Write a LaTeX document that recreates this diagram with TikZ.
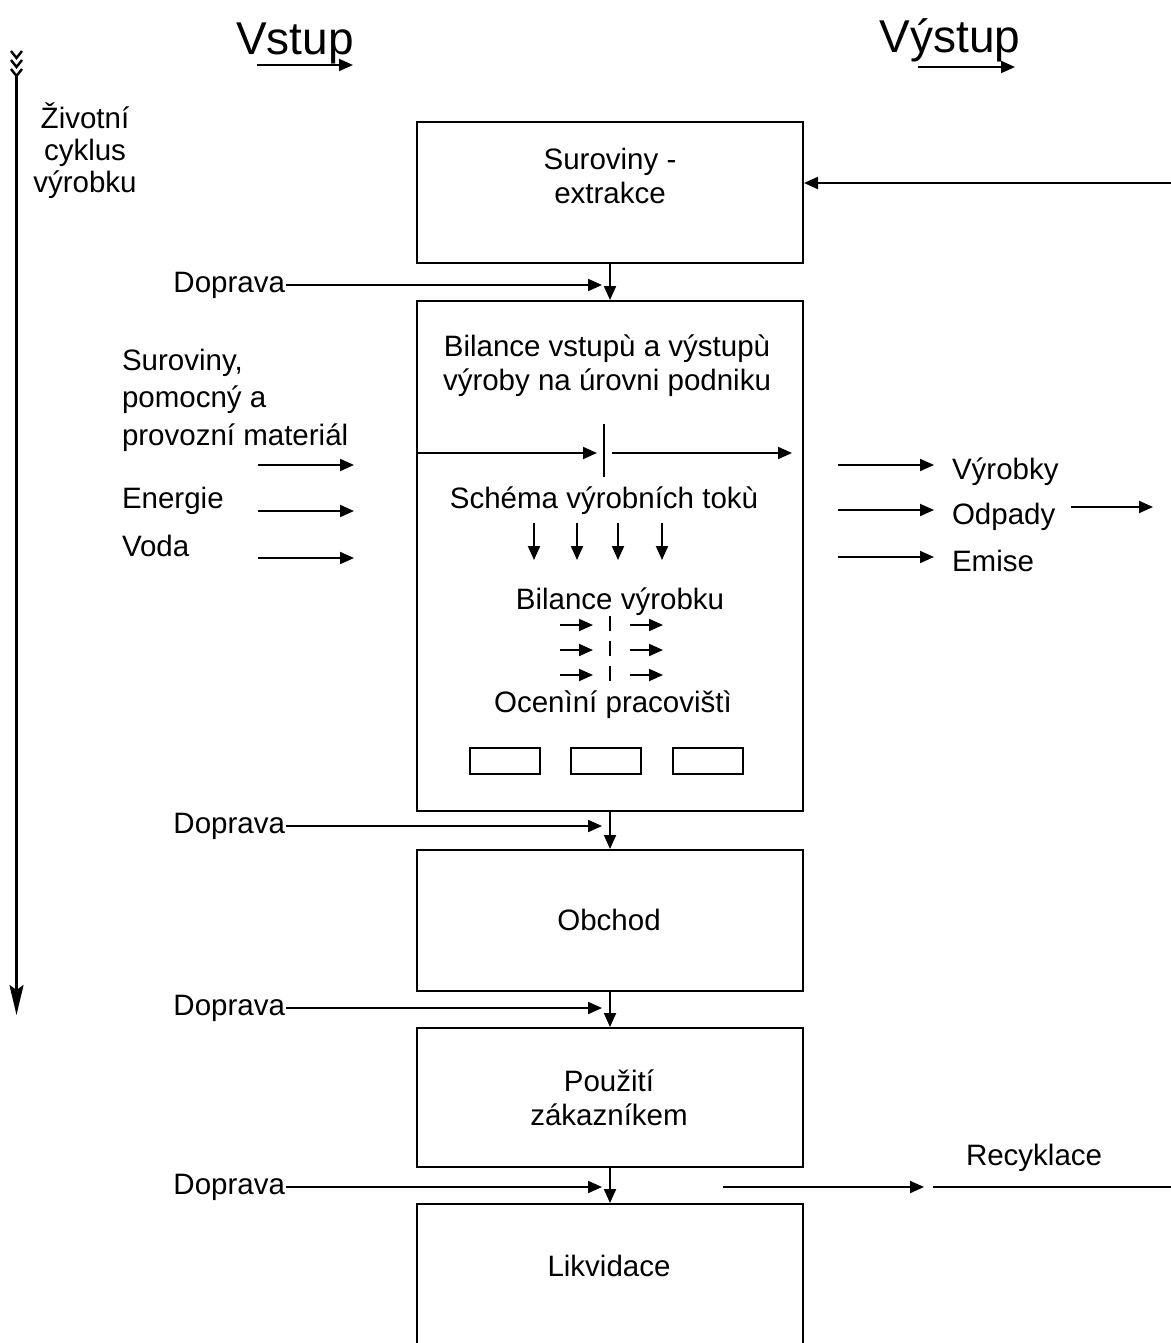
\documentclass[tikz,border=0pt]{standalone}
\usepackage{fontspec}
\setmainfont{Liberation Sans}
\usetikzlibrary{arrows.meta}
\begin{document}
\begin{tikzpicture}[x=1pt,y=-1pt,
  line width=2pt,
  arr/.style={-{Triangle[length=14pt,width=12pt]}},
  txt/.style={font=\fontsize{29.5}{33}\selectfont, inner sep=0pt},
  big/.style={font=\fontsize{46}{50}\selectfont, inner sep=0pt},
  stage/.style={draw, line width=2pt, minimum width=386pt, inner sep=0pt, anchor=north west},
  cell/.style={draw, line width=2pt, minimum width=70pt, minimum height=26pt, inner sep=0pt, anchor=north west},
]
\useasboundingbox (0,0) rectangle (1170,1343);

% headings
\node[big, anchor=base] (vin)  at (295,55) {Vstup};
\node[big, anchor=base] (vout) at (950,53) {Výstup};
\coordinate (vinA) at (257,65);  \coordinate (vinB) at (353,65);
\coordinate (voutA) at (918,67); \coordinate (voutB) at (1015,67);
\draw[arr] (vinA) -- (vinB);
\draw[arr] (voutA) -- (voutB);

% life-cycle axis on the left
\coordinate (lcTop) at (16.5,76);
\coordinate (lcEnd) at (16.5,1015);
\foreach \t in {58,67,76}
  \draw[line width=2.4pt] (11,\t-7) -- (16.5,\t) -- (22,\t-7);
\draw[line width=2.4pt, -{Stealth[length=30pt,width=14pt,inset=5pt]}] (lcTop) -- (lcEnd);
% multi-line nodes: the base anchor sits on the last line
\node[txt, align=center, anchor=base] (lc) at (85,193)
  {Životní\\[-1pt]cyklus\\[-1pt]výrobku};

% stages of the product life cycle
\node[stage, minimum height=141pt] (raw)  at (416,121)  {};
\node[stage, minimum height=510pt] (bal)  at (416,300)  {};
\node[stage, minimum height=141pt] (shop) at (416,849)  {};
\node[stage, minimum height=139pt] (use)  at (416,1027) {};
\node[stage, minimum height=160pt] (disp) at (416,1203) {};

\node[txt, align=center] (rawT) at (610,176) {Suroviny -\\[1pt]extrakce};
\node[txt] (shopT) at (609,920) {Obchod};
\node[txt, align=center] (useT) at (609,1098) {Použití\\[1pt]zákazníkem};
\node[txt] (dispT) at (609,1266) {Likvidace};

% flow between stages
\draw[arr] (raw.south)  -- (bal.north);
\draw[arr] (bal.south)  -- (shop.north);
\draw[arr] (shop.south) -- (use.north);
\draw[arr] (use.south)  -- (disp.north);

% transport
\foreach \n/\y in {1/285, 2/826, 3/1008, 4/1187} {
  \node[txt, anchor=east] (dop\n) at (286,\y) {Doprava};
  \coordinate (dopE\n) at (602,\y);
  \draw[arr] (dop\n.east) -- (dopE\n);
}

% return line into extraction
\coordinate (retR) at (1172,183);
\draw[arr] (retR) -- (raw.east |- retR);

% recycling
\coordinate (recA) at (723,1187); \coordinate (recB) at (924,1187);
\coordinate (recC) at (933,1187); \coordinate (recD) at (1172,1187);
\draw[arr] (recA) -- (recB);
\draw (recC) -- (recD);
\node[txt, anchor=base west] (rec) at (965,1165) {Recyklace};

% inputs
\node[txt, align=left, anchor=base west] (inM) at (121,445)
  {Suroviny,\\[4.5pt]pomocný a\\[4.5pt]provozní materiál};
\node[txt, anchor=base west] (inE) at (121,508) {Energie};
\node[txt, anchor=base west] (inW) at (121,556) {Voda};
\foreach \n/\y in {1/465, 2/511, 3/558} {
  \coordinate (inA\n) at (258,\y); \coordinate (inB\n) at (354,\y);
  \draw[arr] (inA\n) -- (inB\n);
}

% outputs
\node[txt, anchor=base west] (outP) at (951,479) {Výrobky};
\node[txt, anchor=base west] (outO) at (951,524) {Odpady};
\node[txt, anchor=base west] (outE) at (951,571) {Emise};
\foreach \n/\y in {1/465, 2/510, 3/557} {
  \coordinate (outA\n) at (838,\y); \coordinate (outB\n) at (934,\y);
  \draw[arr] (outA\n) -- (outB\n);
}
\coordinate (odA) at (1071,507); \coordinate (odB) at (1153,507);
\draw[arr] (odA) -- (odB);

% contents of the balance box
\node[txt, align=center] (balT) at (607,366)
  {Bilance vstupù a výstupù\\[1pt]výroby na úrovni podniku};
\coordinate (bmid) at (597,453);
\coordinate (bR1) at (612,453); \coordinate (bR2) at (792,453);
\draw[arr] (bal.west |- bmid) -- (bmid);
\draw (604,424) -- (604,477);
\draw[arr] (bR1) -- (bR2);

\node[txt, anchor=base] (schT) at (604,508) {Schéma výrobních tokù};
\foreach \x in {534,577,618,662} {
  \coordinate (sa\x) at (\x,523); \coordinate (sb\x) at (\x,560);
  \draw[arr] (sa\x) -- (sb\x);
}

\node[txt, anchor=base] (bvT) at (620,609) {Bilance výrobku};
\foreach \y in {625,650,675} {
  \coordinate (pl\y) at (560,\y); \coordinate (pm\y) at (593,\y);
  \coordinate (pr\y) at (630,\y); \coordinate (ps\y) at (663,\y);
  \draw[arr] (pl\y) -- (pm\y);
  \draw (610,\y-9) -- (610,\y+6);
  \draw[arr] (pr\y) -- (ps\y);
}

\node[txt, anchor=base] (ocT) at (613,712) {Ocenìní pracovištì};
\node[cell] (c1) at (469,747) {};
\node[cell] (c2) at (570,747) {};
\node[cell] (c3) at (672,747) {};

\end{tikzpicture}
\end{document}
